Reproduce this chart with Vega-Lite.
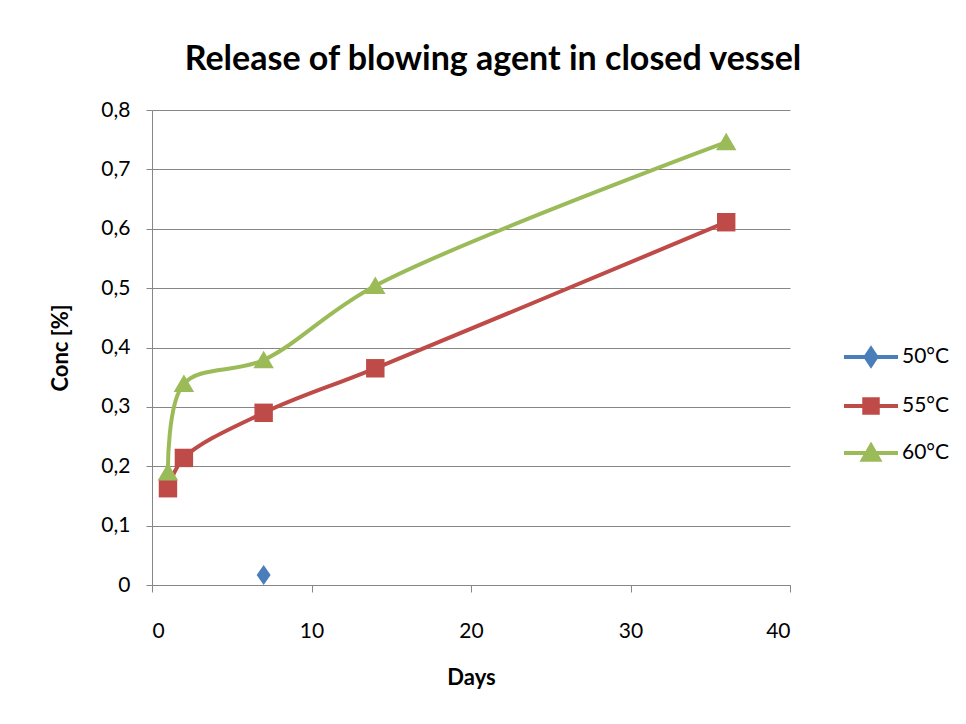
{
  "$schema": "https://vega.github.io/schema/vega-lite/v6.json",
  "width": 638,
  "height": 475,
  "autosize": {"type": "none"},
  "padding": {"left": 152, "top": 110, "right": 176, "bottom": 139},
  "background": "white",
  "title": {
    "text": "Release of blowing agent in closed vessel",
    "font": "Lato",
    "fontSize": 34,
    "fontWeight": "bold",
    "color": "#000000",
    "anchor": "middle",
    "dx": 22,
    "offset": 22
  },
  "config": {
    "view": {"stroke": null},
    "font": "Lato"
  },
  "data": {
    "values": [
      {"series": "50°C", "day": 7, "conc": 0.017},
      {"series": "55°C", "day": 1, "conc": 0.163},
      {"series": "55°C", "day": 2, "conc": 0.214},
      {"series": "55°C", "day": 7, "conc": 0.29},
      {"series": "55°C", "day": 14, "conc": 0.365},
      {"series": "55°C", "day": 36, "conc": 0.611},
      {"series": "60°C", "day": 1, "conc": 0.19},
      {"series": "60°C", "day": 2, "conc": 0.339},
      {"series": "60°C", "day": 7, "conc": 0.379},
      {"series": "60°C", "day": 14, "conc": 0.504},
      {"series": "60°C", "day": 36, "conc": 0.746}
    ]
  },
  "encoding": {
    "x": {
      "field": "day",
      "type": "quantitative",
      "scale": {"domain": [0, 40], "nice": false},
      "axis": {
        "title": "Days",
        "values": [0, 10, 20, 30, 40],
        "grid": false,
        "domainColor": "#868686",
        "tickColor": "#868686",
        "tickSize": 7,
        "labelPadding": 28,
        "labelFontSize": 21,
        "labelColor": "#000000",
        "labelFont": "Lato",
        "titleFont": "Lato",
        "titleFontSize": 22,
        "titleFontWeight": "bold",
        "titleColor": "#000000",
        "titlePadding": 26
      }
    },
    "y": {
      "field": "conc",
      "type": "quantitative",
      "scale": {"domain": [0, 0.8], "nice": false},
      "axis": {
        "title": "Conc [%]",
        "values": [0, 0.1, 0.2, 0.3, 0.4, 0.5, 0.6, 0.7, 0.8],
        "labelExpr": "datum.value == 0 ? '0' : replace(format(datum.value, '.1f'), '.', ',')",
        "grid": true,
        "gridColor": "#868686",
        "gridWidth": 1.2,
        "domainColor": "#868686",
        "tickColor": "#868686",
        "tickSize": 6,
        "labelPadding": 16,
        "labelFontSize": 21,
        "labelColor": "#000000",
        "labelFont": "Lato",
        "titleFont": "Lato",
        "titleFontSize": 22,
        "titleFontWeight": "bold",
        "titleColor": "#000000",
        "titlePadding": 28
      }
    },
    "color": {
      "field": "series",
      "type": "nominal",
      "scale": {"domain": ["50°C", "55°C", "60°C"], "range": ["#4A7EBB", "#BE4B48", "#9BBB59"]},
      "legend": {
        "title": null,
        "orient": "none",
        "legendX": 690,
        "legendY": 218,
        "symbolSize": 2916,
        "rowPadding": 3,
        "labelFontSize": 21,
        "labelFont": "Lato",
        "labelColor": "#000000",
        "labelOffset": 2,
        "encode": {
          "symbols": {
            "update": {
              "shape": {"signal": "datum.value == '50°C' ? 'M-1,0H1M0,-0.3L0.2,0L0,0.3L-0.2,0Z' : datum.value == '55°C' ? 'M-1,0H1M-0.25,-0.25H0.25V0.25H-0.25Z' : 'M-1,0H1M0,-0.28L0.3,0.25H-0.3Z'"},
              "fill": {"scale": "color", "field": "value"},
              "stroke": {"scale": "color", "field": "value"},
              "strokeWidth": {"value": 4},
              "opacity": {"value": 1},
              "fillOpacity": {"value": 1}
            }
          }
        }
      }
    }
  },
  "layer": [
    {
      "mark": {"type": "line", "interpolate": "catmull-rom", "strokeWidth": 4},
      "encoding": {}
    },
    {
      "transform": [{"filter": "datum.series == '50°C'"}],
      "mark": {"type": "point", "filled": true, "opacity": 1, "shape": "M0,-1L0.7,0L0,1L-0.7,0Z", "size": 400}
    },
    {
      "transform": [{"filter": "datum.series == '55°C'"}],
      "mark": {"type": "point", "filled": true, "opacity": 1, "shape": "square", "size": 340}
    },
    {
      "transform": [{"filter": "datum.series == '60°C'"}],
      "mark": {"type": "point", "filled": true, "opacity": 1, "shape": "M0,-0.9L1,0.8H-1Z", "size": 420}
    }
  ]
}
